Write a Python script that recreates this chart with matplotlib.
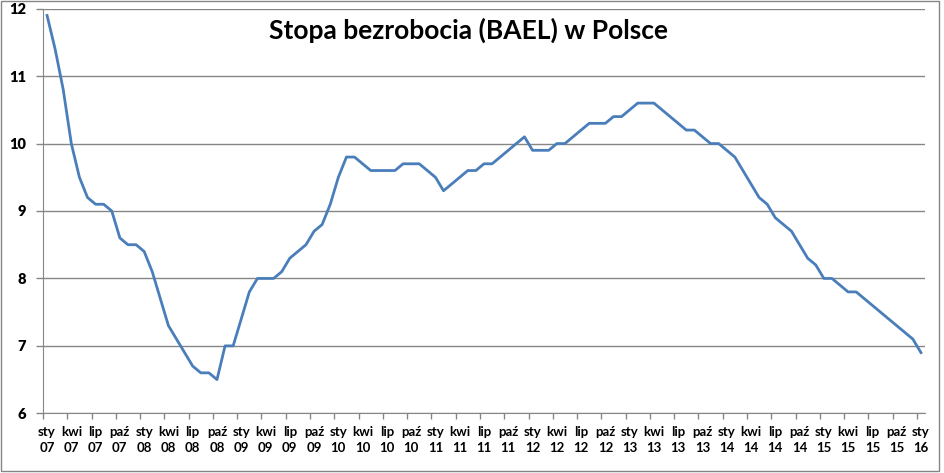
import matplotlib
matplotlib.use("Agg")
import matplotlib.pyplot as plt
from matplotlib.patches import Rectangle
from matplotlib.ticker import FixedLocator

# Monthly unemployment rate (BAEL), Jan 2007 - Jan 2016
stopa = [11.9, 11.4, 10.8, 10.0, 9.5, 9.2, 9.1, 9.1, 9.0, 8.6, 8.5, 8.5,
         8.4, 8.1, 7.7, 7.3, 7.1, 6.9, 6.7, 6.6, 6.6, 6.5, 7.0, 7.0,
         7.4, 7.8, 8.0, 8.0, 8.0, 8.1, 8.3, 8.4, 8.5, 8.7, 8.8, 9.1,
         9.5, 9.8, 9.8, 9.7, 9.6, 9.6, 9.6, 9.6, 9.7, 9.7, 9.7, 9.6,
         9.5, 9.3, 9.4, 9.5, 9.6, 9.6, 9.7, 9.7, 9.8, 9.9, 10.0, 10.1,
         9.9, 9.9, 9.9, 10.0, 10.0, 10.1, 10.2, 10.3, 10.3, 10.3, 10.4, 10.4,
         10.5, 10.6, 10.6, 10.6, 10.5, 10.4, 10.3, 10.2, 10.2, 10.1, 10.0, 10.0,
         9.9, 9.8, 9.6, 9.4, 9.2, 9.1, 8.9, 8.8, 8.7, 8.5, 8.3, 8.2,
         8.0, 8.0, 7.9, 7.8, 7.8, 7.7, 7.6, 7.5, 7.4, 7.3, 7.2, 7.1,
         6.9]
miesiace = ["sty", "kwi", "lip", "paź"]
lata = ["07", "08", "09", "10", "11", "12", "13", "14", "15", "16"]
y_ticks = [6, 7, 8, 9, 10, 11, 12]

x = list(range(len(stopa)))
etykiety = []
for i in range(0, len(stopa), 3):
    etykiety.append(miesiace[(i // 3) % 4] + "\n" + lata[i // 12])

fig = plt.figure(figsize=(9.45, 4.73), dpi=100)
ax = fig.add_axes([43 / 945, 1 - 413.3 / 473, 882 / 945, 404.6 / 473])

ax.plot(x, stopa, color="#4A7EBB", linewidth=2.0, solid_joinstyle="round")

ax.set_xlim(-0.5, len(stopa) - 0.5)
ax.set_ylim(6, 12)
ax.set_yticks(y_ticks)
ax.set_yticklabels([str(v) for v in y_ticks], fontfamily="Lato", fontweight="heavy", fontsize=10.5)
ax.grid(axis="y", color="#868686", linewidth=1.0)
ax.set_axisbelow(True)

# ticks between categories, labels under categories
ax.xaxis.set_major_locator(FixedLocator([i - 0.5 for i in range(0, len(stopa), 3)]))
ax.xaxis.set_major_formatter(plt.NullFormatter())
ax.xaxis.set_minor_locator(FixedLocator(list(range(0, len(stopa), 3))))
ax.set_xticklabels(etykiety, minor=True, fontfamily="Lato", fontweight="bold", fontsize=9.5,
                   linespacing=1.4)
ax.tick_params(axis="x", which="major", length=4, color="#868686", width=1)
ax.tick_params(axis="x", which="minor", length=0, pad=9)
ax.tick_params(axis="y", length=5, color="#868686", width=1, pad=7)

for s in ["top", "right"]:
    ax.spines[s].set_visible(False)
ax.spines["left"].set_color("#868686")
ax.spines["bottom"].set_color("#868686")

fig.text(0.496, 1 - 30 / 473, "Stopa bezrobocia (BAEL) w Polsce", ha="center", va="center",
         fontfamily="Lato", fontweight="bold", fontsize=19)

fig.patches.append(Rectangle((0.001, 1 - 471 / 473), 938 / 945, 470 / 473, transform=fig.transFigure,
                             fill=False, edgecolor="#868686", linewidth=1.0))

fig.savefig("out.png", dpi=100)
